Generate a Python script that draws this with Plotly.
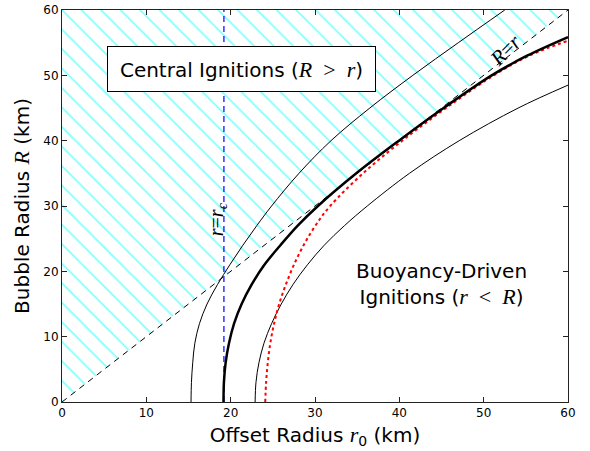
import plotly.graph_objects as go

# ---- data ----
x_ticks = [0, 10, 20, 30, 40, 50, 60]
y_ticks = [0, 10, 20, 30, 40, 50, 60]

r_c = 19.2                      # critical radius (vertical dashed line)
diag_r = [0, 60]                # R = r boundary

# thin outer curve
outer_R = [0, 3, 6, 9, 12, 15, 18, 21, 24, 27, 30, 35, 40, 45, 50, 55, 60]
outer_r0 = [15.3, 15.35, 15.5, 15.75, 16.3, 17.2, 18.45, 19.9, 21.45, 23.1, 24.85, 28.1, 31.9, 36.5, 41.6, 47.0, 52.5]

# thick critical curve
crit_R = [0, 3, 6, 9, 12, 15, 18, 21, 24, 27, 30, 35, 40, 45, 50, 53, 55.85]
crit_r0 = [19.15, 19.2, 19.4, 19.8, 20.4, 21.3, 22.5, 24.0, 25.9, 27.95, 30.35, 34.9, 39.95, 45.25, 50.95, 55.15, 60.0]

# red dotted curve
dotted_R = [0, 3, 6, 9, 12, 15, 18, 21, 24, 27, 30, 35, 40, 45, 50, 53, 55.3]
dotted_r0 = [24.1, 24.2, 24.4, 24.7, 25.15, 25.75, 26.55, 27.5, 28.65, 30.05, 31.8, 35.7, 40.35, 45.55, 51.2, 55.4, 60.0]

# thin inner curve
inner_R = [0, 3, 6, 9, 12, 15, 18, 21, 24, 27, 30, 35, 40, 45, 48.5]
inner_r0 = [22.9, 23.0, 23.35, 23.95, 24.85, 26.0, 27.4, 29.1, 31.1, 33.5, 36.2, 41.2, 47.1, 54.1, 60.0]

SERIF = "font-family:Liberation Serif"

def m(s, size=None):
    sz = f";font-size:{size}px" if size else ""
    return f'<span style="{SERIF}{sz}"><i>{s}</i></span>'

def eq(s, size=None):
    sz = f";font-size:{size}px" if size else ""
    return f'<span style="{SERIF}{sz}">{s}</span>'

fig = go.Figure()

# hatched region above R = r
fig.add_trace(go.Scatter(
    x=[diag_r[0], diag_r[1], diag_r[0], diag_r[0]],
    y=[diag_r[0], diag_r[1], diag_r[1], diag_r[0]],
    mode="lines", fill="toself", line=dict(width=0, color="rgba(0,0,0,0)"),
    fillcolor="rgba(0,0,0,0)",
    fillpattern=dict(shape="\\", fgcolor="#00ffff", size=13.8, solidity=0.12),
    hoverinfo="skip", showlegend=False))

# R = r dashed diagonal
fig.add_trace(go.Scatter(x=diag_r, y=diag_r, mode="lines",
                         line=dict(color="black", width=1, dash="6px,5px"), showlegend=False))

# r = r_c vertical dashed line
fig.add_trace(go.Scatter(x=[r_c, r_c], y=[y_ticks[0], y_ticks[-1]], mode="lines",
                         line=dict(color="#0000ff", width=1.2, dash="6px,4px"), showlegend=False))

spl = dict(shape="spline", smoothing=1.0)
fig.add_trace(go.Scatter(x=outer_r0, y=outer_R, mode="lines",
                         line=dict(color="black", width=1, **spl), showlegend=False))
fig.add_trace(go.Scatter(x=inner_r0, y=inner_R, mode="lines",
                         line=dict(color="black", width=1, **spl), showlegend=False))
fig.add_trace(go.Scatter(x=dotted_r0, y=dotted_R, mode="lines",
                         line=dict(color="red", width=2, dash="dot", **spl), showlegend=False))
fig.add_trace(go.Scatter(x=crit_r0, y=crit_R, mode="lines",
                         line=dict(color="black", width=2.5, **spl), showlegend=False))

font_main = "DejaVu Sans"
gap = "&#8194;"  # en space

fig.add_annotation(x=21.3, y=50.9, xref="x", yref="y", showarrow=False,
                   text="Central Ignitions (" + m("R", 22) + eq(gap + "&gt;" + gap, 22) + m("r", 22) + ")",
                   font=dict(family=font_main, size=20, color="black"),
                   width=247, height=24,
                   bgcolor="white", bordercolor="black", borderwidth=1, borderpad=10)

fig.add_annotation(x=45.0, y=18.0, xref="x", yref="y", showarrow=False,
                   text="Buoyancy-Driven<br>Ignitions (" + m("r", 22) + eq(gap + "&lt;" + gap, 22) + m("R", 22) + ")",
                   font=dict(family=font_main, size=20, color="black"), align="center")

fig.add_annotation(x=52.6, y=53.9, xref="x", yref="y", showarrow=False, textangle=-45,
                   text=m("R") + eq("=") + m("r"),
                   font=dict(family="Liberation Serif", size=21, color="black"))

fig.add_annotation(x=18.4, y=28.0, xref="x", yref="y", showarrow=False, textangle=-90,
                   text=m("r") + eq("=") + m("r") + "<sub>" + m("c") + "</sub>",
                   font=dict(family="Liberation Serif", size=20, color="black"))

axis_common = dict(
    showgrid=False, zeroline=False, showline=True, linecolor="#222222", linewidth=1,
    mirror="ticks", ticks="inside", ticklen=5, tickwidth=1, tickcolor="#222222",
    tickfont=dict(family=font_main, size=12, color="black"),
)

fig.update_xaxes(range=[x_ticks[0], x_ticks[-1]], tickvals=x_ticks, ticktext=[str(v) for v in x_ticks],
                 title=dict(text="Offset Radius " + m("r", 22) + "<sub>0</sub> (km)",
                            font=dict(family=font_main, size=20, color="black"), standoff=8),
                 **axis_common)
fig.update_yaxes(range=[y_ticks[0], y_ticks[-1]], tickvals=y_ticks, ticktext=[str(v) for v in y_ticks],
                 title=dict(text="Bubble Radius " + m("R", 22) + " (km)",
                            font=dict(family=font_main, size=20, color="black"), standoff=8),
                 **axis_common)

fig.update_layout(width=590, height=451, margin=dict(l=62, r=22, t=10, b=49, autoexpand=False),
                  plot_bgcolor="white", paper_bgcolor="white", showlegend=False)

fig.write_html("out.html", config={"displayModeBar": False},
               post_script="document.body.style.margin='0';")
